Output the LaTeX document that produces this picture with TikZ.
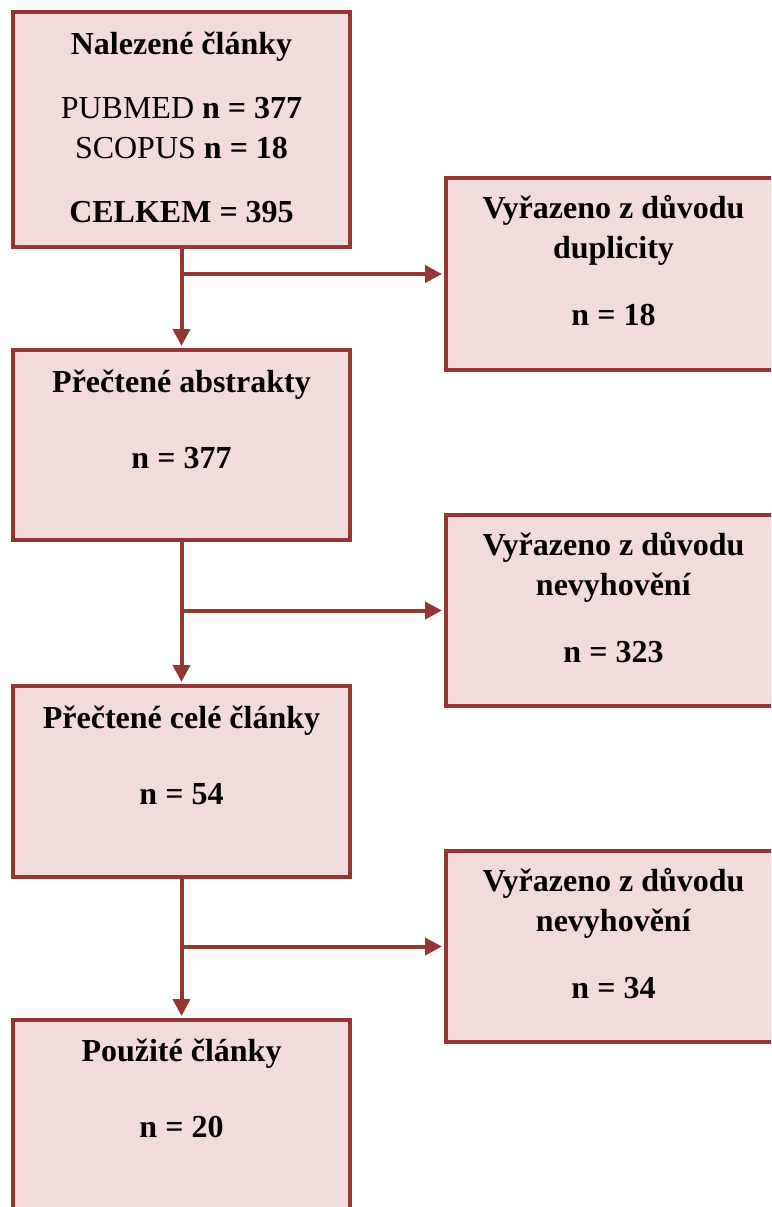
\documentclass[tikz,border=0pt]{standalone}
\usepackage{fontspec}
\setmainfont{Liberation Serif}
\usetikzlibrary{arrows.meta}
\definecolor{lineRed}{HTML}{943634}
\definecolor{boxFill}{HTML}{F2DBDB}
\begin{document}
\begin{tikzpicture}[x=1pt,y=-1pt,
  box/.style={draw=lineRed, fill=boxFill, line width=4pt, rectangle, inner sep=0pt},
  txt/.style={anchor=base, inner sep=0pt, font=\fontsize{32}{38}\selectfont},
  conn/.style={draw=lineRed, line width=4pt, shorten >=2pt, -{Triangle[length=17pt,width=17pt]}}]
\useasboundingbox (0,0) rectangle (771,1207);
\clip (0,0) rectangle (771,1207);
% left boxes
\node[box, minimum width=337pt, minimum height=235pt] (b1) at (181.5,129.5) {};
\node[box, minimum width=337pt, minimum height=190pt] (b2) at (181.5,445) {};
\node[box, minimum width=337pt, minimum height=191pt] (b3) at (181.5,781.5) {};
\node[box, minimum width=337pt, minimum height=200pt] (b4) at (181.5,1120) {};
% right boxes
\node[box, minimum width=344pt, minimum height=192pt] (r1) at (618,274) {};
\node[box, minimum width=344pt, minimum height=191pt] (r2) at (618,610.5) {};
\node[box, minimum width=344pt, minimum height=191pt] (r3) at (618,946.5) {};
% texts
\node[txt] (t1a) at (181.5,55) {\textbf{Nalezené články}};
\node[txt] (t1b) at (181.5,118) {PUBMED \textbf{n = 377}};
\node[txt] (t1c) at (181.5,158) {SCOPUS \textbf{n = 18}};
\node[txt] (t1d) at (181.5,222) {\textbf{CELKEM = 395}};
\node[txt] (t2a) at (181.5,392) {\textbf{Přečtené abstrakty}};
\node[txt] (t2b) at (181.5,468) {\textbf{n = 377}};
\node[txt] (t3a) at (181.5,728) {\textbf{Přečtené celé články}};
\node[txt] (t3b) at (181.5,804) {\textbf{n = 54}};
\node[txt] (t4a) at (181.5,1061) {\textbf{Použité články}};
\node[txt] (t4b) at (181.5,1137) {\textbf{n = 20}};
\node[txt] (s1a) at (613.5,218) {\textbf{Vyřazeno z důvodu}};
\node[txt] (s1b) at (613.5,258) {\textbf{duplicity}};
\node[txt] (s1c) at (613.5,325) {\textbf{n = 18}};
\node[txt] (s2a) at (613.5,555) {\textbf{Vyřazeno z důvodu}};
\node[txt] (s2b) at (613.5,595) {\textbf{nevyhovění}};
\node[txt] (s2c) at (613.5,662) {\textbf{n = 323}};
\node[txt] (s3a) at (613.5,891) {\textbf{Vyřazeno z důvodu}};
\node[txt] (s3b) at (613.5,931) {\textbf{nevyhovění}};
\node[txt] (s3c) at (613.5,998) {\textbf{n = 34}};
% connectors
\draw[conn] (b1.south) -- (b2.north);
\draw[conn] (b2.south) -- (b3.north);
\draw[conn] (b3.south) -- (b4.north);
\draw[conn] (b1.south |- r1.west) -- (r1.west);
\draw[conn] (b2.south |- r2.west) -- (r2.west);
\draw[conn] (b3.south |- r3.west) -- (r3.west);
\end{tikzpicture}
\end{document}
